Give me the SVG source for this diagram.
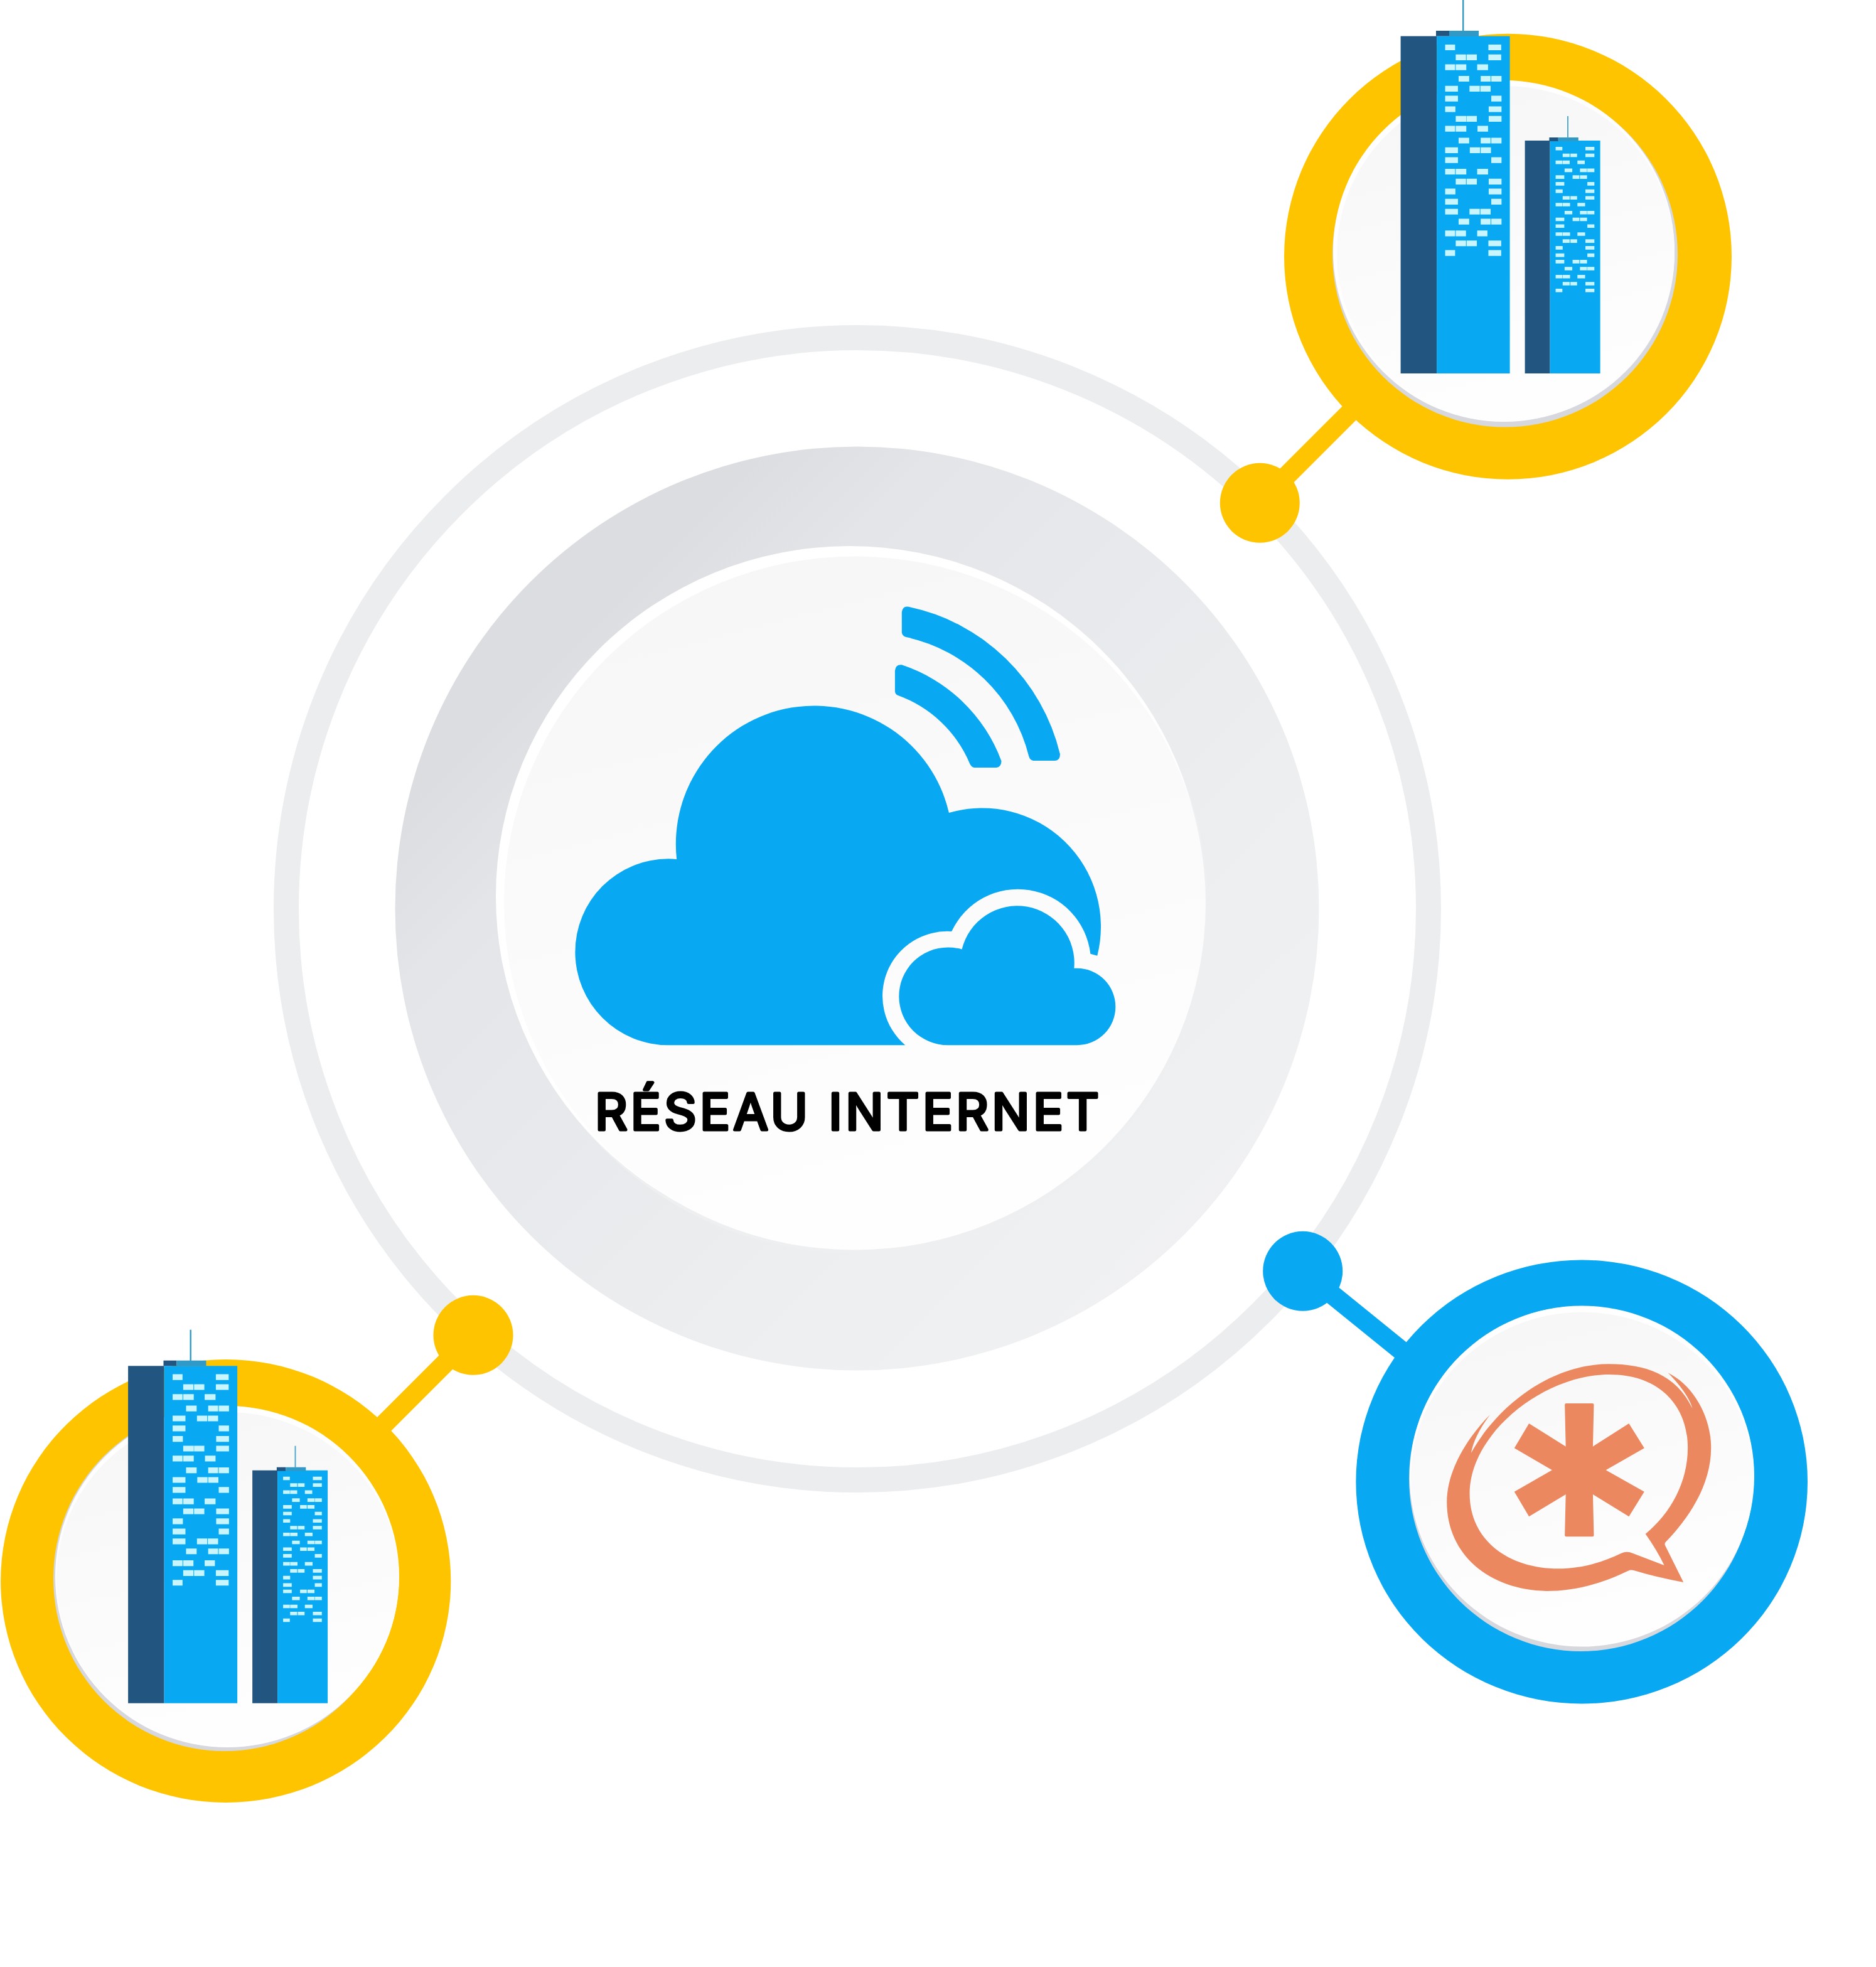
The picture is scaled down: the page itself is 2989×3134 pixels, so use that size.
<svg xmlns="http://www.w3.org/2000/svg" xmlns:xlink="http://www.w3.org/1999/xlink" width="2989" height="3134" viewBox="0 0 2989 3134">
<style>
.yellow{fill:#ffc400}.blue{fill:#08a9f2}.rim{fill:#fff}.shadow{fill:#d7d8dd}.face{fill:url(#face)}
.dark{fill:#22557f}.mid{fill:#3199c6}
.linkY{stroke:#ffc400;stroke-width:31;fill:none}.linkB{stroke:#08a9f2;stroke-width:31;fill:none}
.win{fill:none;stroke:#c9f5ff}
.label{font-family:"Inter","Liberation Sans",sans-serif;font-weight:400;font-size:80px;fill:#000;stroke:#000;stroke-width:5;stroke-linejoin:round;stroke-linecap:round}
</style>
<defs>
<linearGradient id="face" x1="0" y1="0" x2="0.25" y2="1"><stop offset="0" stop-color="#f6f6f6"/><stop offset="1" stop-color="#fefefe"/></linearGradient>
<linearGradient id="disc" x1="0" y1="0" x2="1" y2="1"><stop offset="0.2" stop-color="#dcdde1"/><stop offset="0.3" stop-color="#e4e5e8"/><stop offset="0.7" stop-color="#eeeff1"/><stop offset="1" stop-color="#f2f2f3"/></linearGradient>
<g id="towers">
<rect class="dark" x="2231.6" y="57.6" width="57.5" height="537.4"/>
<rect class="blue" x="2289.1" y="57.6" width="116.5" height="537.4"/>
<rect class="dark" x="2288" y="49" width="21" height="8.6"/>
<rect class="mid" x="2309" y="49" width="47" height="9"/>
<rect class="mid" x="2330" y="0" width="2.4" height="50"/>
<rect class="dark" x="2429.6" y="224" width="40" height="371"/>
<rect class="blue" x="2469.6" y="224" width="80" height="371"/>
<rect class="dark" x="2468.4" y="219" width="14.4" height="6"/>
<rect class="mid" x="2482.8" y="219" width="32" height="6"/>
<rect x="2497" y="185" width="2" height="35" fill="#4fa9d0"/>
<g transform="translate(2000,0) scale(0.5102)">
<path class="win" stroke-width="18" d="M593 148H624M728 148H768M626 179H658M660 179H692M728 179H768M593 210H624M626 210H659M693 210H727M635 246H668M704 246H735M737 246H769M593 277H633M669 277H701M703 277H735M593 308H633M737 308H769M593 341H625M729 341H769M626 371H659M660 371H692M729 371H769M593 402H624M626 402H659M694 402H727M635 439H668M704 439H735M737 439H769M593 469H633M670 469H702M704 469H736M593 500H633M737 500H769M593 536H624M626 536H659M693 536H727M626 567H658M660 567H692M729 567H769M593 598H625M729 598H769M593 630H633M737 630H769M593 661H633M669 661H701M703 661H735M635 692H668M704 692H735M737 692H769M593 729H624M626 729H658M693 729H725M626 760H658M660 760H692M728 760H768M593 790H624M728 790H768"/>
<path class="win" stroke-width="11" d="M938 464H959M1031 464H1059M960 485H982M984 485H1005M1031 485H1059M938 507H959M960 507H982M1006 507H1029M966 532H990M1014 532H1036M1037 532H1059M938 553H965M991 553H1012M1014 553H1036M938 574H965M1037 574H1059M938 597H960M1031 597H1059M960 618H982M984 618H1005M1031 618H1059M938 639H959M960 639H983M1006 639H1030M966 664H990M1014 664H1036M1037 664H1059M938 685H965M991 685H1012M1014 685H1036M938 706H965M1037 706H1059M938 731H959M960 731H983M1006 731H1030M960 753H982M984 753H1005M1031 753H1059M938 774H960M1031 774H1059M938 797H965M1037 797H1059M938 817H965M991 817H1012M1014 817H1036M966 839H990M1014 839H1036M1037 839H1059M938 864H959M960 864H983M1006 864H1030M960 886H982M984 886H1005M1031 886H1059M938 907H959M1031 907H1059"/>
</g>
</g>
</defs>
<rect width="2989" height="3134" fill="#fff"/>
<g id="internet-ring"><circle cx="1366" cy="1448" r="910" fill="none" stroke="#ecedef" stroke-width="40"/></g>
<g id="connectors">
<path class="linkY" d="M2007 801L2150 658"/>
<path class="linkY" d="M754 2127L595 2286"/>
<path class="linkB" d="M2076 2025L2260 2174"/>
</g>
<g id="internet">
<circle cx="1365.5" cy="1447.5" r="736" fill="url(#disc)"/>
<ellipse cx="1362" cy="1441" rx="562" ry="556" fill="#eeeff1"/>
<ellipse class="rim" cx="1354" cy="1428" rx="564" ry="558"/>
<ellipse cx="1362" cy="1439" rx="559" ry="552.5" class="face"/>
<g transform="translate(880,900) scale(0.6059)">
<path class="blue" d="M305 1263A245 245 0 0 1 305 773Q316 773 327 774A363.8 363.8 0 0 1 1043 652A312 312 0 0 1 1433 1028L1415 1023A192 192 0 0 0 1050 964A170 170 0 0 0 928 1263Z"/>
<path class="blue" d="M1040 1263A128 128 0 0 1 1040 1006Q1060 1006 1077 1011A150 150 0 0 1 1372 1061Q1376 1061 1380 1061A101 101 0 0 1 1380 1263Z"/>
<path class="blue" d="M919 125Q921 107 937 110A520 520 0 0 1 1335 497Q1336 514 1322 515H1265Q1256 514 1253 503A425 425 0 0 0 930 190Q920 187 919 178Z"/>
<path class="blue" d="M901 278Q903 261 919 263A420 420 0 0 1 1181 516Q1180 532 1168 533H1110Q1102 532 1098 523A325 325 0 0 0 908 343Q902 340 901 333Z"/>
</g>
<text class="label" x="948" y="1800" textLength="803" lengthAdjust="spacing">RÉSEAU INTERNET</text>
</g>
<g id="building-top">
<ellipse class="yellow" cx="2402.5" cy="408.7" rx="356.5" ry="355"/>
<circle class="shadow" cx="2398" cy="405.5" r="275"/>
<circle class="rim" cx="2396" cy="400" r="272"/>
<ellipse class="face" cx="2399" cy="404" rx="269" ry="267"/>
<use xlink:href="#towers" href="#towers"/>
</g>
<g id="building-bottom">
<ellipse class="yellow" cx="359.7" cy="2519" rx="358.6" ry="353"/>
<ellipse class="shadow" cx="358" cy="2515" rx="273" ry="275"/>
<ellipse class="rim" cx="362" cy="2512" rx="274" ry="272"/>
<ellipse class="face" cx="362.7" cy="2515.3" rx="272.8" ry="265.3"/>
<use xlink:href="#towers" href="#towers" transform="translate(-2027.5,2118.7)"/>
</g>
<g id="asterisk">
<ellipse class="blue" cx="2520.2" cy="2361" rx="359.8" ry="353.5"/>
<ellipse class="shadow" cx="2519" cy="2356" rx="274" ry="275"/>
<ellipse class="rim" cx="2520.5" cy="2352" rx="274.5" ry="271.5"/>
<ellipse class="face" cx="2521" cy="2355.7" rx="273" ry="265"/>
<g transform="translate(2200,2100) scale(0.3827,0.3333)" fill="#ec8860">
<path d="M772 408H881Q887 408 887 414L883 614L1033 504L1097 622L937 727L1097 830L1033 949L883 843L887 1039Q887 1045 881 1045H772Q766 1045 766 1039L770 843L617 949L556 830L713 727L556 622L617 504L770 614L766 414Q766 408 772 408Z"/>
<path fill-rule="evenodd" d="M1260 1263Q1150 1240 1055 1207Q1040 1202 1030 1208C900 1280 790 1305 690 1305C450 1300 275 1130 275 880C275 720 370 560 455 462C410 530 385 590 376 645C480 430 700 220 950 220C1100 220 1230 270 1297 432C1290 390 1240 310 1195 262C1300 320 1375 470 1375 620C1375 800 1280 960 1185 1072Q1180 1080 1185 1090ZM1102 1032C1210 930 1278 780 1278 620C1278 430 1170 270 950 270C680 270 370 550 370 840C370 1060 530 1198 740 1198C830 1198 920 1170 1000 1125Q1025 1112 1050 1125L1180 1182Q1150 1110 1102 1032Z"/>
</g>
</g>
<g id="dot-top"><circle class="yellow" cx="2007.3" cy="801.3" r="63.5"/></g>
<g id="dot-bottom"><circle class="yellow" cx="754" cy="2127.3" r="63.5"/></g>
<g id="dot-asterisk"><circle class="blue" cx="2075.7" cy="2025.3" r="63.5"/></g>
</svg>
